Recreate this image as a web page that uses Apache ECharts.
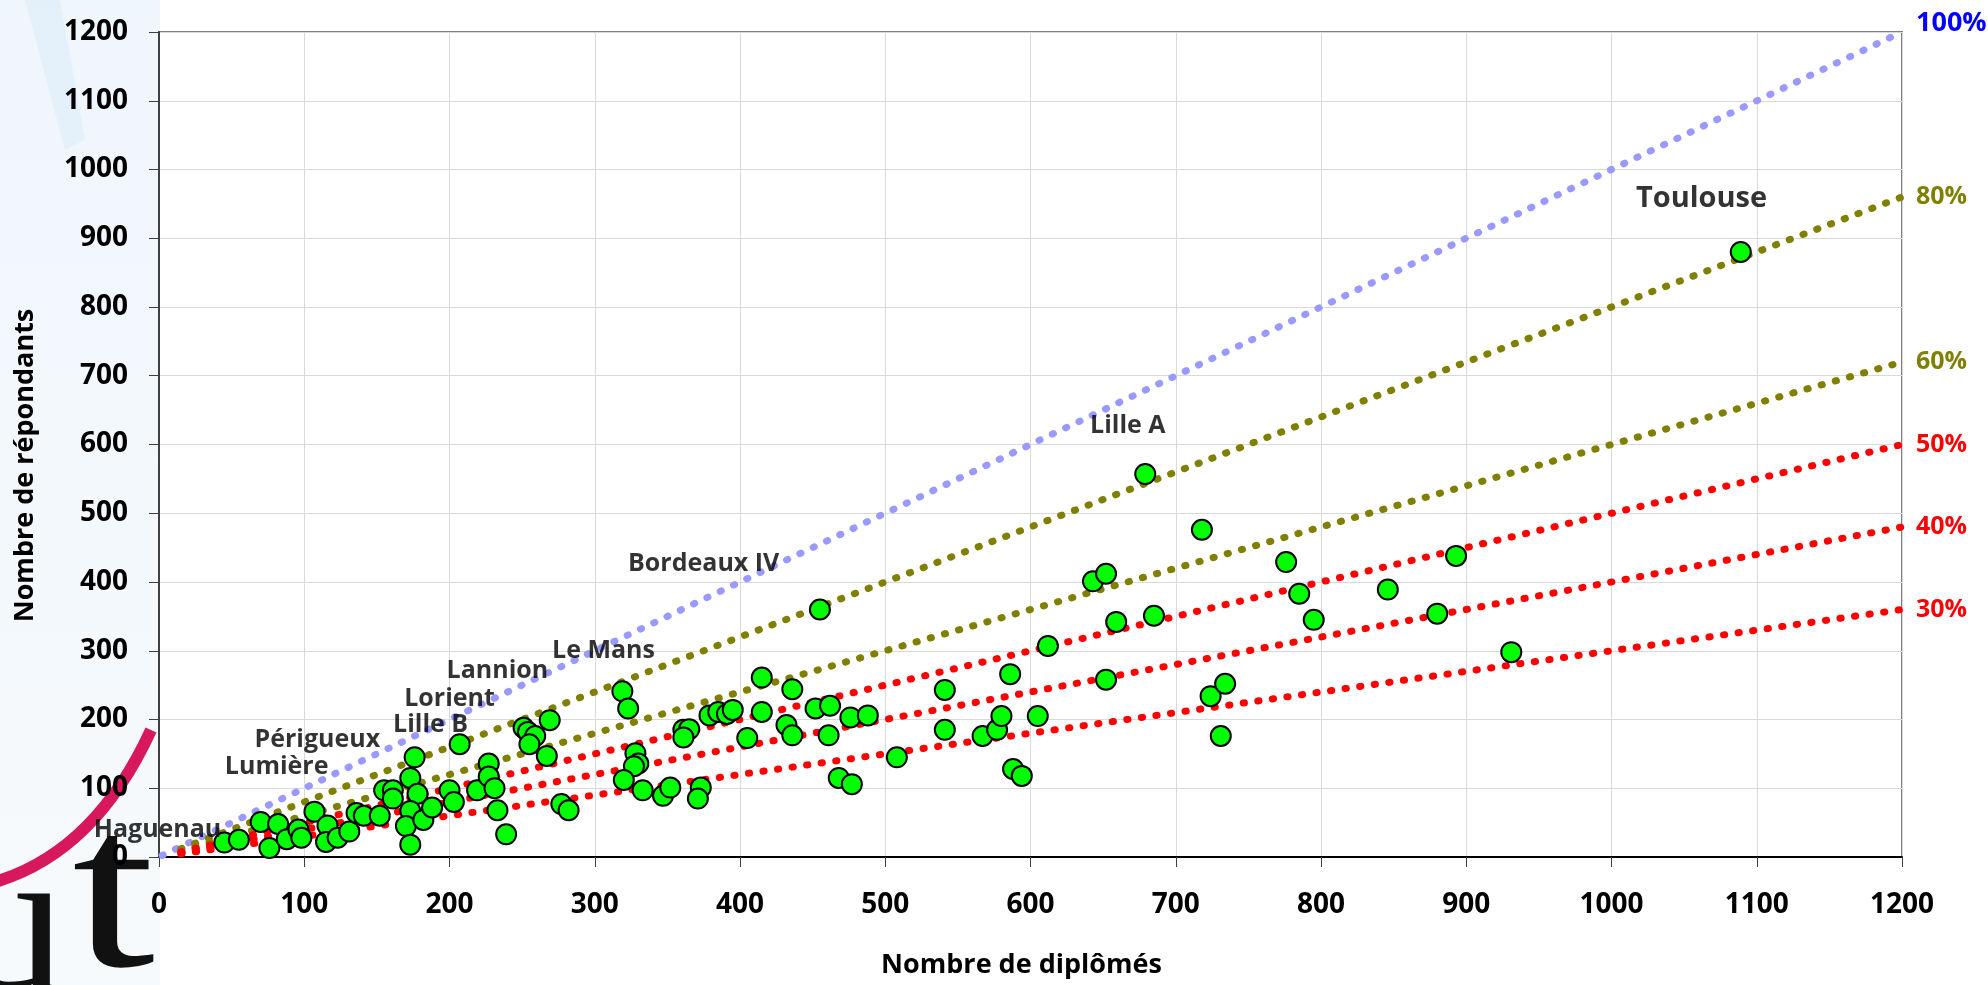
<!DOCTYPE html>
<html><head><meta charset="utf-8">
<script src="https://cdn.jsdelivr.net/npm/echarts@6/dist/echarts.min.js"></script>
<style>html,body{margin:0;padding:0;background:#fff}#c{width:1988px;height:985px}</style>
</head><body><div id="c"></div>
<script>
// --- data ---
const diplomes = [45,55,70,76,82,88,96,98,107,116,115,123,131,136,141,152,155,161,161,176,173,178,173,170,173,182,188,207,200,203,219,227,227,231,233,239,251,254,259,255,269,267,277,282,319,323,328,330,327,320,333,347,352,361,365,361,373,371,379,385,391,395,405,415,415,432,436,436,452,455,462,461,468,477,476,488,508,541,541,567,577,580,586,588,594,605,612,643,652,652,659,685,718,724,734,731,776,785,795,846,880,893,931,679,1089];
const repondants = [21,25,51,13,48,26,40,28,66,46,22,28,37,64,60,60,97,97,85,145,115,92,67,45,18,54,72,164,97,80,97,136,117,100,68,33,188,182,176,164,199,147,77,68,241,216,151,136,132,112,97,89,101,185,186,174,101,85,206,211,208,214,173,261,211,192,177,244,216,360,220,177,115,106,203,206,145,243,185,176,185,205,266,128,118,205,307,401,412,258,342,351,476,234,252,176,429,383,345,389,354,438,298,557,880];
const labelNames = ['Haguenau','Lumière','Périgueux','Lille B','Lorient','Lannion','Le Mans','Bordeaux IV','Lille A','Toulouse'];
const labelX = [-1, 81, 109, 187, 200, 233, 306, 375, 667, 1062];
const labelY = [39, 131, 170, 192, 230, 271, 300, 427, 627, 957];
const rates = [1.0, 0.8, 0.6, 0.5, 0.4, 0.3];
const rateLabels = ['100%','80%','60%','50%','40%','30%'];
const rateStartX = [-7, 15, 15, 15, 15, 15];
const rateEndX = [1200, 1200, 1200, 1200, 1200, 1200];
const xName = 'Nombre de diplômés';
const yName = 'Nombre de répondants';

// --- styles ---
const lineColors = ['#9999FF','#808000','#808000','#FF0000','#FF0000','#FF0000'];
const textColors = ['#0000FF','#808000','#808000','#FF0000','#FF0000','#FF0000'];
const FONT = '"Open Sans"';

const chart = echarts.init(document.getElementById('c'), null, {renderer:'canvas'});

const rateSeries = rates.map((r, i) => ({
  type: 'line',
  data: [[rateStartX[i], rateStartX[i] * r], [rateEndX[i], rateEndX[i] * r]],
  symbol: 'none', clip: false, silent: true, z: 2,
  lineStyle: {color: lineColors[i], width: 7, type: [1.2, 13.5], cap: 'round'},
  endLabel: {show: true, formatter: rateLabels[i], color: textColors[i], fontFamily: FONT,
    fontWeight: 'bold', fontSize: i === 0 ? 27 : 25, distance: 14, offset: [0, i === 0 ? -9 : 0]}
}));

const option = {
  animation: false,
  backgroundColor: '#ffffff',
  textStyle: {fontFamily: FONT},
  graphic: [
    {type: 'rect', z: -10, shape: {x: 0, y: 0, width: 160, height: 985},
     style: {fill: new echarts.graphic.LinearGradient(0, 0, 0, 1, [{offset: 0, color: '#EFF6FC'}, {offset: 1, color: '#F7FAFC'}])}},
    {type: 'polygon', z: -9, shape: {points: [[25,0],[60,0],[85,140],[65,150]]},
     style: {fill: 'rgba(205,228,246,0.35)'}},
    {type: 'bezierCurve', z: -8, shape: {x1: -5, y1: 882, x2: 151, y2: 730, cpx1: 95, cpy1: 852},
     style: {stroke: '#D8185C', lineWidth: 12, fill: null}},
    {type: 'text', z: -7, style: {text: 'u', x: 66, y: 936, align: 'right', verticalAlign: 'middle',
      font: '215px "Liberation Serif"', fill: '#111111'}},
    {type: 'text', z: -7, originX: 72, originY: 911, scaleX: 1.3,
     style: {text: 't', x: 72, y: 905, align: 'left', verticalAlign: 'middle',
      font: '230px "Liberation Serif"', fill: '#111111'}}
  ],
  grid: {left: 159, right: 86, top: 32, bottom: 128, show: true, borderColor: '#808080', borderWidth: 2, backgroundColor: 'transparent'},
  xAxis: {
    type: 'value', min: 0, max: 1200, interval: 100,
    name: xName, nameLocation: 'middle', nameGap: 95,
    nameTextStyle: {fontFamily: FONT, fontWeight: 'bold', fontSize: 27, color: '#000', padding: [0, 18, 0, 0]},
    axisLine: {show: true, lineStyle: {color: '#000', width: 2}},
    axisTick: {show: true, length: 10, lineStyle: {color: '#404040', width: 1}},
    axisLabel: {margin: 34, fontFamily: FONT, fontWeight: 'bold', fontSize: 28, color: '#000', formatter: v => String(v)},
    splitLine: {show: true, lineStyle: {color: '#D9D9D9', width: 1}}
  },
  yAxis: {
    type: 'value', min: 0, max: 1200, interval: 100,
    name: yName, nameLocation: 'middle', nameGap: 120,
    nameTextStyle: {fontFamily: FONT, fontWeight: 'bold', fontSize: 27, color: '#000', padding: [0, 42, 0, 0]},
    axisLine: {show: true, lineStyle: {color: '#404040', width: 2}},
    axisTick: {show: true, length: 10, lineStyle: {color: '#404040', width: 1}},
    axisLabel: {margin: 31, fontFamily: FONT, fontWeight: 'bold', fontSize: 28, color: '#000', formatter: v => String(v)},
    splitLine: {show: true, lineStyle: {color: '#D9D9D9', width: 1}}
  },
  series: rateSeries.concat([
    {type: 'scatter', z: 3, data: diplomes.map((x, i) => [x, repondants[i]]),
     symbol: 'circle', symbolSize: 20,
     itemStyle: {color: '#00FF00', borderColor: '#000000', borderWidth: 2, opacity: 1}},
    {type: 'scatter', z: 4, clip: false, silent: true,
     data: labelNames.map((n, i) => ({value: [labelX[i], labelY[i]], name: n,
       label: n === 'Toulouse' ? {fontSize: 29} : undefined})),
     symbol: 'circle', symbolSize: 1, itemStyle: {color: 'rgba(0,0,0,0)'},
     label: {show: true, position: 'inside', formatter: p => p.name, color: '#000',
       fontFamily: FONT, fontWeight: 'bold', fontSize: 25}}
  ])
};
chart.setOption(option);
</script>
</body></html>
